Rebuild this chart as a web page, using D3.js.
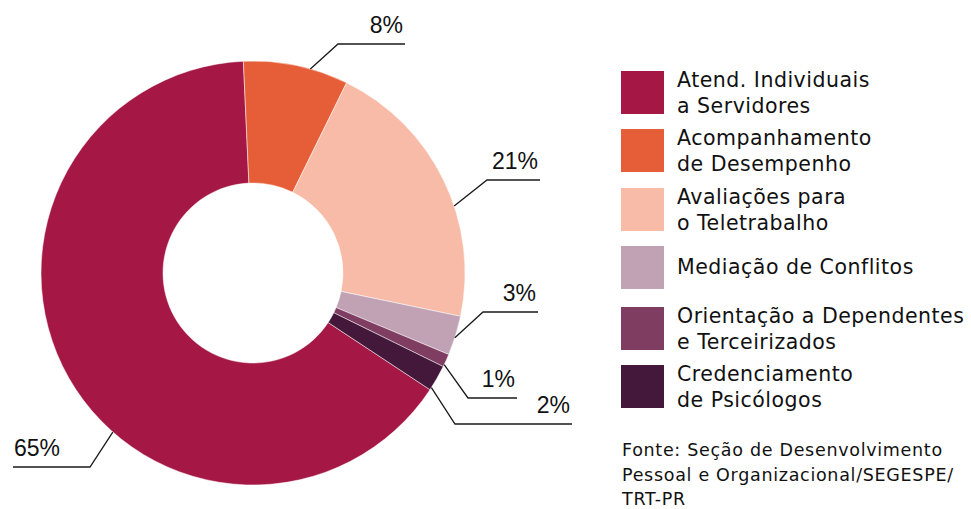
<!DOCTYPE html>
<html>
<head>
<meta charset="utf-8">
<script src="https://cdn.jsdelivr.net/npm/d3@7"></script>
<style>
  html, body { margin: 0; padding: 0; background: #fff; }
  svg { display: block; }
</style>
</head>
<body>
<svg id="chart" width="971" height="509"></svg>
<script>
// Categories in legend order, with their shares (%)
const categories = [
  ["Atend. Individuais", "a Servidores"],
  ["Acompanhamento", "de Desempenho"],
  ["Avaliações para", "o Teletrabalho"],
  ["Mediação de Conflitos"],
  ["Orientação a Dependentes", "e Terceirizados"],
  ["Credenciamento", "de Psicólogos"]
];
const shares = [65, 8, 21, 3, 1, 2];
const valueLabels = ["65%", "8%", "21%", "3%", "1%", "2%"];
const colors = ["#A51744", "#E65E37", "#F7BBA7", "#C1A1B4", "#803D62", "#44183B"];
const sourceLines = [
  "Fonte: Seção de Desenvolvimento",
  "Pessoal e Organizacional/SEGESPE/",
  "TRT-PR"
];

// Leader line layout: anchor angle on the outer edge, elbow and end of the line
const leaders = [
  { angle: 221.4, elbow: [90, 467], endX: 13, anchor: "start" },
  { angle: 15.7, elbow: [338, 44], endX: 405, anchor: "end" },
  { angle: 71.6, elbow: [487, 180], endX: 540, anchor: "end" },
  { angle: 107.8, elbow: [483, 312], endX: 538, anchor: "end" },
  { angle: 115.6, elbow: [468, 398], endX: 517, anchor: "end" },
  { angle: 122.7, elbow: [455, 424], endX: 572, anchor: "end" }
];

const svg = d3.select("#chart");
const cx = 253, cy = 273, outerR = 212, innerR = 90;
const start = 123.4 * Math.PI / 180;

const pie = d3.pie().sort(null).value(d => d).startAngle(start).endAngle(start + 2 * Math.PI);
const arc = d3.arc().innerRadius(innerR).outerRadius(outerR);
const arcs = pie(shares);

const g = svg.append("g").attr("transform", `translate(${cx},${cy})`);
g.selectAll("path.slice")
  .data(arcs)
  .join("path")
  .attr("class", "slice")
  .attr("d", arc)
  .attr("fill", (d, i) => colors[i])
  .attr("stroke", "#fff")
  .attr("stroke-width", 0.5);

// Leader lines and value labels
leaders.forEach((L, i) => {
  const a = L.angle * Math.PI / 180;
  const x0 = cx + outerR * Math.sin(a);
  const y0 = cy - outerR * Math.cos(a);
  svg.append("polyline")
    .attr("points", [[x0, y0], L.elbow, [L.endX, L.elbow[1]]].map(p => p.join(",")).join(" "))
    .attr("fill", "none")
    .attr("stroke", "#1a1a1a")
    .attr("stroke-width", 1.3);
  svg.append("text")
    .attr("x", L.anchor === "start" ? L.endX + 1 : L.endX - 2)
    .attr("y", L.elbow[1] - 11)
    .attr("text-anchor", L.anchor)
    .attr("font-family", "Liberation Sans, Arial, sans-serif")
    .attr("font-size", 23)
    .attr("fill", "#111")
    .text(valueLabels[i]);
});

// Legend
const legendTops = [71, 129, 188, 246, 307, 365];
const lg = svg.append("g")
  .attr("font-family", "DejaVu Sans, sans-serif")
  .attr("font-size", 20.5)
  .attr("letter-spacing", 0.5)
  .attr("fill", "#111");
categories.forEach((lines, i) => {
  const y = legendTops[i];
  lg.append("rect").attr("x", 621).attr("y", y).attr("width", 43).attr("height", 43).attr("fill", colors[i]);
  const t = lg.append("text").attr("x", 677);
  if (lines.length === 1) {
    t.append("tspan").attr("x", 677).attr("y", y + 28).text(lines[0]);
  } else {
    t.append("tspan").attr("x", 677).attr("y", y + 16).text(lines[0]);
    t.append("tspan").attr("x", 677).attr("y", y + 42).text(lines[1]);
  }
});

// Source note
const src = svg.append("text")
  .attr("font-family", "DejaVu Sans, sans-serif")
  .attr("font-size", 17.5)
  .attr("letter-spacing", 0.7)
  .attr("fill", "#111");
sourceLines.forEach((s, i) => {
  src.append("tspan").attr("x", 622).attr("y", 456 + i * 24.5).text(s);
});
</script>
</body>
</html>
